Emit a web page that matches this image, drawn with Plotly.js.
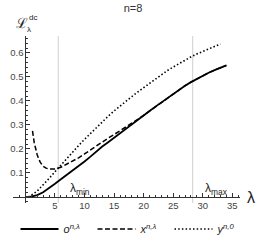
<!DOCTYPE html>
<html>
<head>
<meta charset="utf-8">
<script src="https://cdn.plot.ly/plotly-3.0.1.min.js"></script>
<style>html,body{margin:0;padding:0;background:#fff}#chart{width:266px;height:243px}</style>
</head>
<body>
<div id="chart"></div>
<script>
// ---- data ----
const oLam = [0.8,1.5,2,3,4,5,6,7,8,9,10,11,12,13,14,15,16,17,18,19,20,21,22,23,24,25,26,27,28,29,30,31,32,33,34];
const oVal = [0,0.004,0.008,0.02,0.036,0.055,0.074,0.092,0.11,0.128,0.148,0.168,0.19,0.21,0.228,0.247,0.266,0.285,0.304,0.322,0.34,0.358,0.376,0.394,0.412,0.43,0.448,0.463,0.478,0.492,0.505,0.517,0.528,0.538,0.548];

const xLam = [1.2,1.5,2,2.5,3,3.5,4,4.5,5,6,7,8,9,10,11,12,13,14,15,16,17,18,19,20,21,22,23,24,25,26,27,28,29,30,31,32,33,34];
const xVal = [0.275,0.225,0.175,0.145,0.128,0.12,0.116,0.115,0.117,0.124,0.136,0.149,0.163,0.179,0.196,0.213,0.23,0.245,0.26,0.275,0.29,0.306,0.323,0.34,0.358,0.376,0.394,0.412,0.43,0.448,0.463,0.478,0.492,0.505,0.517,0.528,0.538,0.548];

const yLam = [0.5,1,2,3,4,5,6,7,8,9,10,11,12,13,14,15,16,17,18,19,20,21,22,23,24,25,26,27,28,29,30,31,32,33];
const yVal = [0,0.007,0.025,0.05,0.077,0.105,0.133,0.161,0.188,0.214,0.24,0.265,0.29,0.313,0.336,0.358,0.379,0.399,0.418,0.437,0.455,0.473,0.491,0.509,0.526,0.541,0.556,0.57,0.583,0.595,0.606,0.617,0.627,0.637];

const lambdaMin = 5.55;
const lambdaMax = 28.3;

const xTicks = [5,10,15,20,25,30,35];
const yTicks = [0.1,0.2,0.3,0.4,0.5,0.6];
const yTickText = ['0.1','0.2','0.3','0.4','0.5','0.6'];

const seriesNames = ['<i>o</i><sup><i>n,λ</i></sup>','<i>x</i><sup><i>n,λ</i></sup>','<i>y</i><sup><i>n,0</i></sup>'];
const titleText = 'n=8';

// ---- chart ----
const xRange = [-2.1, 36.3];
const yRange = [-0.025, 0.67];

const traces = [
  {x:oLam, y:oVal, name:seriesNames[0], mode:'lines', line:{color:'#000', width:1.8}},
  {x:xLam, y:xVal, name:seriesNames[1], mode:'lines', line:{color:'#000', width:1.5, dash:'5px,2.5px'}},
  {x:yLam, y:yVal, name:seriesNames[2], mode:'lines', line:{color:'#000', width:1.6, dash:'1.5px,2.2px'}}
];

const tickFont = {family:'Liberation Sans, Arial, sans-serif', size:9.5, color:'#444'};

const layout = {
  width:266, height:243,
  margin:{l:13, r:26, t:36, b:40, autoexpand:false},
  paper_bgcolor:'#fff', plot_bgcolor:'#fff',
  title:{text:titleText, x:0.5, xref:'container', xanchor:'center', y:1-8/243, yref:'container', yanchor:'middle',
         font:{family:'Liberation Sans, Arial, sans-serif', size:11, color:'#333'}},
  showlegend:true,
  legend:{orientation:'h', xref:'container', x:15.5/266, xanchor:'left', yref:'container', y:1-229/243, yanchor:'middle',
          itemwidth:38, entrywidth:24, entrywidthmode:'pixels', bgcolor:'rgba(0,0,0,0)',
          font:{family:'Liberation Sans, Arial, sans-serif', size:11, color:'#222'}, tracegroupgap:0},
  xaxis:{range:xRange, anchor:'free', position:(0-yRange[0])/(yRange[1]-yRange[0]),
         showgrid:false, zeroline:false, showline:true, linecolor:'#333', linewidth:1,
         tickmode:'array', tickvals:xTicks, ticks:'inside', ticklen:4, tickcolor:'#333', tickwidth:1,
         tickfont:tickFont,
         minor:{dtick:1, tick0:0, ticks:'inside', ticklen:2, tickcolor:'#333', showgrid:false}},
  yaxis:{range:yRange, anchor:'free', position:(0-xRange[0])/(xRange[1]-xRange[0]),
         showgrid:false, zeroline:false, showline:true, linecolor:'#333', linewidth:1,
         tickmode:'array', tickvals:yTicks, ticktext:yTickText, ticks:'inside', ticklen:4, tickcolor:'#333', tickwidth:1,
         tickfont:tickFont,
         minor:{dtick:0.02, tick0:0, ticks:'inside', ticklen:2, tickcolor:'#333', showgrid:false}},
  shapes:[
    {type:'line', xref:'x', yref:'paper', x0:lambdaMin, x1:lambdaMin, y0:0, y1:1, line:{color:'#cfcfcf', width:1}, layer:'below'},
    {type:'line', xref:'x', yref:'paper', x0:lambdaMax, x1:lambdaMax, y0:0, y1:1, line:{color:'#cfcfcf', width:1}, layer:'below'}
  ],
  annotations:[
    {x:lambdaMin, y:0.035, xref:'x', yref:'y', xanchor:'left', yanchor:'middle', xshift:10, showarrow:false,
     text:'λ<sub>min</sub>', font:{family:'Liberation Sans, Arial, sans-serif', size:12, color:'#222'}},
    {x:lambdaMax, y:0.035, xref:'x', yref:'y', xanchor:'left', yanchor:'middle', xshift:10, showarrow:false,
     text:'λ<sub>max</sub>', font:{family:'Liberation Sans, Arial, sans-serif', size:12, color:'#222'}},
    {x:1.048, y:0.03, xref:'paper', yref:'paper', xanchor:'center', yanchor:'middle', showarrow:false,
     text:'λ', font:{family:'Liberation Sans, Arial, sans-serif', size:16, color:'#222'}},
    {x:0.04, y:1.078, xref:'paper', yref:'paper', xanchor:'center', yanchor:'middle', showarrow:false,
     text:'ℒ', font:{family:'DejaVu Serif, serif', size:14, color:'#222'}},
    {x:0.086, y:1.11, xref:'paper', yref:'paper', xanchor:'center', yanchor:'middle', showarrow:false,
     text:'dc', font:{family:'Liberation Sans, Arial, sans-serif', size:8, color:'#222'}},
    {x:0.071, y:1.04, xref:'paper', yref:'paper', xanchor:'center', yanchor:'middle', showarrow:false,
     text:'λ', font:{family:'Liberation Sans, Arial, sans-serif', size:8, color:'#222'}}
  ]
};

Plotly.newPlot('chart', traces, layout, {displayModeBar:false, staticPlot:true});
</script>
</body>
</html>
